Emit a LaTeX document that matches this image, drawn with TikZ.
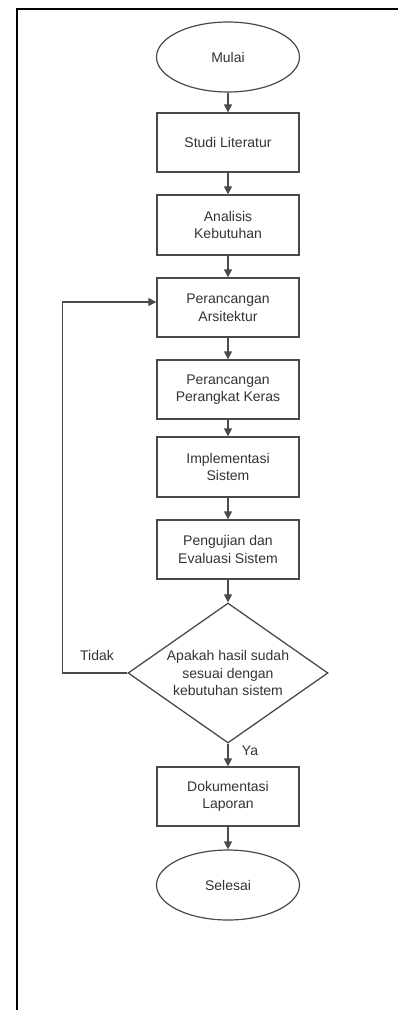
\documentclass[tikz,border=0pt]{standalone}
\usepackage{fontspec}
\setmainfont{Liberation Sans}
\usetikzlibrary{shapes.geometric,arrows.meta}
\definecolor{linec}{HTML}{4A4A4A}
\definecolor{textc}{HTML}{333333}
\tikzset{
  every node/.style={font=\fontsize{14}{17.5}\selectfont, text=textc},
  stepbox/.style={draw=linec, line width=1.3pt, rectangle, minimum width=142pt, minimum height=59pt, align=center, inner sep=0pt},
  term/.style={draw=linec, line width=1.2pt, ellipse, minimum width=143pt, minimum height=70pt, inner sep=0pt},
  decision/.style={draw=linec, line width=1.3pt, diamond, aspect=1.43, minimum width=200pt, minimum height=140pt, inner sep=0pt, align=center},
  flow/.style={draw=linec, line width=1.3pt, -{Triangle[length=8pt,width=8pt]}},
  lbl/.style={inner sep=0pt}
}
\begin{document}
\begin{tikzpicture}[x=1pt,y=-1pt]
\useasboundingbox (0,0) rectangle (398,1010);
\draw[black, line width=2pt] (16.5,1010) -- (16.5,8.5) -- (398,8.5);

\node[term] (mulai) at (228,57) {Mulai};
\node[stepbox] (studi) at (228,142.5) {Studi Literatur};
\node[stepbox, minimum height=60pt] (analisis) at (228,225) {Analisis\\Kebutuhan};
\node[stepbox] (arsit) at (228,307.5) {Perancangan\\Arsitektur};
\node[stepbox] (keras) at (228,389.5) {Perancangan\\Perangkat Keras};
\node[stepbox, minimum height=60pt] (impl) at (228,467) {Implementasi\\Sistem};
\node[stepbox] (uji) at (228,549.5) {Pengujian dan\\Evaluasi Sistem};
\node[decision] (dec) at (228,673) {Apakah hasil sudah\\sesuai dengan\\kebutuhan sistem};
\node[stepbox] (doc) at (228,796.5) {Dokumentasi\\Laporan};
\node[term] (selesai) at (228,885) {Selesai};

\draw[flow] (mulai) -- (studi);
\draw[flow] (studi) -- (analisis);
\draw[flow] (analisis) -- (arsit);
\draw[flow] (arsit) -- (keras);
\draw[flow] (keras) -- (impl);
\draw[flow] (impl) -- (uji);
\draw[flow] (uji) -- (dec);
\draw[flow] (dec) -- (doc);
\draw[flow] (doc) -- (selesai);

\coordinate (loopB) at (62.5,673);
\coordinate (loopT) at (62.5,302);
\draw[flow] (dec.west) -- (loopB) -- (loopT) -- (arsit.west |- loopT);

\node[lbl] (tidak) at (97,655) {Tidak};
\node[lbl] (ya) at (250,751) {Ya};
\end{tikzpicture}
\end{document}
